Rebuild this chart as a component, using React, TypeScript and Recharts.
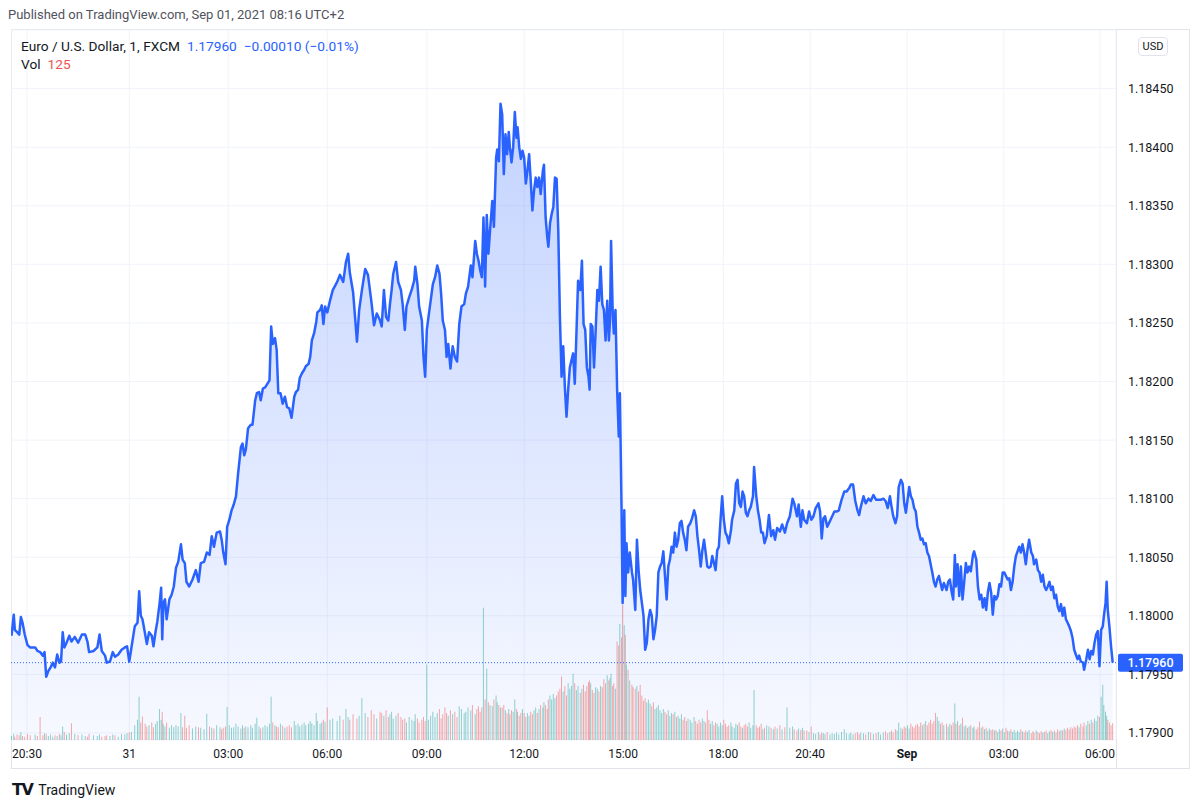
import React from "react";
import {
    ComposedChart,
    Area,
    Line,
    Bar,
    Cell,
    XAxis,
    YAxis,
    CartesianGrid,
    ReferenceLine
} from "recharts";

// bar index (1 bar = 1 minute, counted from the left edge of the chart)
const bars = [
    1, 5, 7, 11, 15, 18, 21, 25, 30, 35,
    44, 48, 53, 58, 61, 64, 68, 72, 76, 80,
    84, 88, 91, 94, 97, 101, 106, 110, 116, 122,
    129, 135, 139, 142, 150, 157, 161, 165, 171, 174,
    180, 185, 189, 195, 201, 207, 211, 215, 219, 225,
    230, 233, 236, 239, 244, 247, 251, 256, 259, 263,
    266, 270, 273, 275, 277, 280, 283, 288, 292, 296,
    300, 304, 309, 312, 316, 319, 324, 330, 336, 341,
    345, 351, 356, 361, 365, 369, 374, 380, 383, 386,
    390, 393, 397, 401, 405, 409, 413, 418, 421, 424,
    427, 431, 436, 439, 444, 447, 451, 454, 458, 462,
    466, 470, 473, 476, 480, 483, 486, 490, 494, 498,
    502, 506, 510, 515, 518, 522, 525, 529, 533, 536,
    541, 544, 547, 551, 555, 557, 562, 565, 568, 571,
    575, 580, 585, 593, 598, 604, 609, 613, 616, 622,
    629, 633, 638, 644, 649, 655, 660, 665, 671, 674,
    678, 682, 686, 689, 692, 695, 700, 704, 709, 712,
    716, 719, 724, 729, 733, 735, 739, 742, 747, 750,
    753, 756, 759, 763, 767, 771, 775, 779, 782, 785,
    789, 792, 795, 799, 803, 807, 811, 815, 819, 824,
    827, 831, 836, 839, 844, 847, 850, 853, 856, 859,
    862, 865, 868, 871, 875, 878, 882, 884, 887, 890,
    893, 896, 899, 902, 905, 907, 910, 913, 916, 919,
    921, 924, 927, 930, 933, 936, 939, 942, 945, 948,
    951, 954, 957, 960, 963, 967, 969, 972, 975, 977,
    980, 983, 986, 989, 992, 995, 998, 1001, 1004, 1007,
    1010, 1013, 1016, 1019, 1022, 1025, 1028, 1031, 1035, 1038,
    1041, 1044, 1047, 1050, 1052, 1054, 1057, 1060, 1063, 1066,
    1069, 1072, 1075, 1078, 1081, 1084, 1087, 1089, 1091, 1094,
    1096, 1099, 1102, 1105, 1107, 1110, 1112, 1115, 1117, 1119,
    1122, 1125, 1129, 1131, 1135, 1138, 1141, 1144, 1147, 1150,
    1153, 1156, 1159, 1162, 1165, 1168, 1171, 1174, 1177, 1180,
    1183, 1186, 1189, 1192, 1195, 1198, 1201, 1204, 1207, 1210,
    1213, 1216, 1219, 1222, 1225, 1228, 1231, 1235, 1238, 1242,
    1245, 1248, 1251, 1254, 1257, 1260, 1263, 1266, 1269, 1272,
    1275, 1278, 1281, 1284, 1287, 1290, 1293, 1296, 1299, 1302,
    1305, 1309, 1311, 1315, 1318, 1321, 1324, 1327, 1330, 1333,
    1336, 1339, 1342, 1345, 1349, 1351, 1355, 1358, 1361, 1364,
    1367, 1370, 1374, 1378, 1382, 1386, 1389, 1393, 1398, 1402,
    1407, 1411, 1416, 1421, 1424, 1429, 1432, 1436, 1439, 1442,
    1447, 1451, 1455, 1459, 1463, 1468, 1471, 1474, 1477, 1480,
    1484, 1489, 1493, 1497, 1501, 1505, 1510, 1515, 1519, 1524,
    1527, 1531, 1535, 1539, 1542, 1545, 1550, 1554, 1559, 1563,
    1568, 1573, 1577, 1581, 1586, 1590, 1594, 1598, 1601, 1604,
    1608, 1611, 1614, 1618, 1621, 1624, 1627, 1630, 1633, 1636,
    1639, 1642, 1645, 1648, 1651, 1654, 1657, 1660, 1663, 1666,
    1669, 1672, 1675, 1678, 1681, 1684, 1687, 1690, 1693, 1696,
    1701, 1704, 1707, 1710, 1713, 1716, 1718, 1721, 1724, 1727,
    1730, 1733, 1736, 1739, 1742, 1745, 1749, 1751, 1755, 1758,
    1761, 1764, 1767, 1770, 1773, 1776, 1779, 1782, 1785, 1788,
    1791, 1794, 1797, 1800, 1803, 1806, 1809, 1812, 1815, 1818,
    1821, 1824, 1827, 1830, 1833, 1836, 1839, 1842, 1845, 1848,
    1851, 1855, 1858, 1860, 1864, 1867, 1870, 1873, 1876, 1879,
    1882, 1885, 1888, 1891, 1894, 1897, 1900, 1903, 1906, 1909,
    1912, 1915, 1918, 1921, 1924, 1927, 1930, 1933, 1936, 1939,
    1942, 1945, 1949, 1951, 1955, 1958, 1961, 1964, 1967, 1970,
    1973, 1976, 1979, 1982, 1985, 1987, 1990, 1992, 1994, 1997,
    2000, 2003
];

const closes = [
    1.17983, 1.18001, 1.17988, 1.17986, 1.17984, 1.17999, 1.17994, 1.17984, 1.17975, 1.17973,
    1.17973, 1.17970, 1.17969, 1.17966, 1.17969, 1.17948, 1.17953, 1.17956, 1.17960, 1.17956,
    1.17967, 1.17960, 1.17961, 1.17986, 1.17973, 1.17977, 1.17983, 1.17978, 1.17982, 1.17977,
    1.17984, 1.17984, 1.17978, 1.17969, 1.17970, 1.17973, 1.17984, 1.17970, 1.17966, 1.17960,
    1.17961, 1.17969, 1.17965, 1.17967, 1.17971, 1.17973, 1.17974, 1.17961, 1.17973, 1.17991,
    1.17994, 1.18021, 1.18000, 1.17997, 1.17984, 1.17976, 1.17986, 1.17983, 1.17974, 1.17987,
    1.17995, 1.18010, 1.18024, 1.17980, 1.18011, 1.18014, 1.17997, 1.18014, 1.18018, 1.18025,
    1.18041, 1.18046, 1.18061, 1.18048, 1.18045, 1.18029, 1.18025, 1.18031, 1.18039, 1.18029,
    1.18045, 1.18046, 1.18054, 1.18052, 1.18068, 1.18059, 1.18071, 1.18072, 1.18065, 1.18054,
    1.18044, 1.18076, 1.18082, 1.18090, 1.18095, 1.18102, 1.18122, 1.18144, 1.18147, 1.18137,
    1.18142, 1.18160, 1.18163, 1.18163, 1.18184, 1.18190, 1.18191, 1.18184, 1.18194, 1.18195,
    1.18198, 1.18201, 1.18247, 1.18232, 1.18237, 1.18227, 1.18190, 1.18190, 1.18181, 1.18187,
    1.18178, 1.18177, 1.18169, 1.18187, 1.18191, 1.18193, 1.18203, 1.18207, 1.18210, 1.18213,
    1.18215, 1.18221, 1.18235, 1.18241, 1.18251, 1.18259, 1.18261, 1.18265, 1.18249, 1.18264,
    1.18259, 1.18269, 1.18278, 1.18285, 1.18291, 1.18285, 1.18302, 1.18309, 1.18293, 1.18276,
    1.18234, 1.18261, 1.18278, 1.18296, 1.18291, 1.18269, 1.18248, 1.18258, 1.18252, 1.18247,
    1.18278, 1.18255, 1.18252, 1.18266, 1.18278, 1.18292, 1.18302, 1.18285, 1.18278, 1.18266,
    1.18244, 1.18264, 1.18272, 1.18279, 1.18286, 1.18298, 1.18283, 1.18264, 1.18252, 1.18221,
    1.18204, 1.18244, 1.18255, 1.18269, 1.18283, 1.18289, 1.18299, 1.18292, 1.18275, 1.18252,
    1.18244, 1.18221, 1.18232, 1.18211, 1.18230, 1.18221, 1.18217, 1.18249, 1.18264, 1.18266,
    1.18275, 1.18281, 1.18299, 1.18289, 1.18320, 1.18309, 1.18303, 1.18295, 1.18289, 1.18340,
    1.18281, 1.18342, 1.18309, 1.18329, 1.18354, 1.18332, 1.18391, 1.18398, 1.18388, 1.18437,
    1.18428, 1.18377, 1.18411, 1.18394, 1.18413, 1.18400, 1.18387, 1.18400, 1.18430, 1.18408,
    1.18417, 1.18400, 1.18390, 1.18397, 1.18391, 1.18369, 1.18380, 1.18394, 1.18371, 1.18346,
    1.18363, 1.18374, 1.18366, 1.18374, 1.18360, 1.18380, 1.18385, 1.18340, 1.18323, 1.18315,
    1.18335, 1.18343, 1.18349, 1.18374, 1.18373, 1.18329, 1.18255, 1.18204, 1.18230, 1.18195,
    1.18170, 1.18193, 1.18212, 1.18218, 1.18224, 1.18198, 1.18241, 1.18286, 1.18278, 1.18303,
    1.18249, 1.18244, 1.18212, 1.18204, 1.18193, 1.18249, 1.18247, 1.18212, 1.18244, 1.18278,
    1.18269, 1.18298, 1.18266, 1.18261, 1.18235, 1.18269, 1.18235, 1.18252, 1.18320, 1.18258,
    1.18241, 1.18261, 1.18193, 1.18153, 1.18190, 1.18093, 1.18011, 1.18090, 1.18017, 1.18062,
    1.18037, 1.18054, 1.18037, 1.18031, 1.18005, 1.18065, 1.18039, 1.18022, 1.18011, 1.18000,
    1.17971, 1.17977, 1.17997, 1.18005, 1.18000, 1.17980, 1.17988, 1.18000, 1.18037, 1.18042,
    1.18045, 1.18055, 1.18034, 1.18014, 1.18042, 1.18048, 1.18059, 1.18054, 1.18071, 1.18059,
    1.18065, 1.18079, 1.18081, 1.18071, 1.18065, 1.18056, 1.18076, 1.18079, 1.18083, 1.18090,
    1.18085, 1.18068, 1.18056, 1.18042, 1.18056, 1.18065, 1.18054, 1.18042, 1.18041, 1.18042,
    1.18051, 1.18045, 1.18039, 1.18056, 1.18059, 1.18082, 1.18102, 1.18082, 1.18071, 1.18068,
    1.18062, 1.18073, 1.18082, 1.18090, 1.18113, 1.18116, 1.18096, 1.18093, 1.18106, 1.18102,
    1.18088, 1.18085, 1.18090, 1.18093, 1.18102, 1.18127, 1.18102, 1.18090, 1.18082, 1.18071,
    1.18071, 1.18062, 1.18068, 1.18086, 1.18068, 1.18073, 1.18065, 1.18075, 1.18072, 1.18078,
    1.18071, 1.18079, 1.18085, 1.18100, 1.18096, 1.18085, 1.18095, 1.18076, 1.18090, 1.18082,
    1.18079, 1.18089, 1.18082, 1.18085, 1.18092, 1.18096, 1.18089, 1.18066, 1.18083, 1.18085,
    1.18076, 1.18081, 1.18085, 1.18089, 1.18089, 1.18090, 1.18099, 1.18106, 1.18106, 1.18109,
    1.18112, 1.18112, 1.18098, 1.18090, 1.18086, 1.18093, 1.18102, 1.18096, 1.18100, 1.18098,
    1.18103, 1.18099, 1.18099, 1.18099, 1.18100, 1.18098, 1.18092, 1.18102, 1.18093, 1.18085,
    1.18079, 1.18085, 1.18110, 1.18116, 1.18113, 1.18096, 1.18088, 1.18099, 1.18110, 1.18102,
    1.18099, 1.18092, 1.18089, 1.18076, 1.18071, 1.18065, 1.18066, 1.18061, 1.18062, 1.18054,
    1.18051, 1.18044, 1.18037, 1.18029, 1.18025, 1.18031, 1.18034, 1.18028, 1.18022, 1.18028,
    1.18022, 1.18029, 1.18031, 1.18021, 1.18014, 1.18052, 1.18025, 1.18044, 1.18017, 1.18042,
    1.18014, 1.18029, 1.18045, 1.18037, 1.18042, 1.18038, 1.18052, 1.18055, 1.18048, 1.18025,
    1.18014, 1.18018, 1.18007, 1.18015, 1.18005, 1.18020, 1.18028, 1.18020, 1.18001, 1.18017,
    1.18014, 1.18017, 1.18027, 1.18025, 1.18037, 1.18037, 1.18034, 1.18031, 1.18032, 1.18022,
    1.18029, 1.18042, 1.18051, 1.18055, 1.18059, 1.18054, 1.18061, 1.18054, 1.18044, 1.18056,
    1.18065, 1.18054, 1.18051, 1.18044, 1.18048, 1.18039, 1.18037, 1.18029, 1.18035, 1.18025,
    1.18022, 1.18025, 1.18029, 1.18022, 1.18025, 1.18015, 1.18018, 1.18008, 1.18004, 1.18010,
    1.18000, 1.18007, 1.17997, 1.17994, 1.17991, 1.17987, 1.17981, 1.17971, 1.17967, 1.17963,
    1.17966, 1.17961, 1.17960, 1.17954, 1.17963, 1.17971, 1.17963, 1.17970, 1.17967, 1.17977,
    1.17984, 1.17987, 1.17957, 1.17988, 1.17991, 1.18000, 1.18011, 1.18029, 1.18005, 1.17991,
    1.17974, 1.17960
];

const volumes = [
    30, 45, 25, 40, 35, 60, 30, 25, 45, 35,
    40, 30, 170, 35, 50, 45, 30, 40, 25, 35,
    30, 45, 35, 100, 60, 40, 50, 125, 45, 35,
    40, 30, 25, 45, 35, 30, 40, 25, 30, 35,
    30, 40, 35, 25, 45, 40, 50, 55, 60, 110,
    150, 320, 130, 175, 120, 100, 110, 130, 95, 120,
    140, 230, 150, 210, 120, 100, 130, 90, 110, 95,
    110, 100, 200, 95, 180, 90, 110, 85, 100, 95,
    90, 80, 195, 100, 90, 85, 110, 95, 80, 90,
    100, 245, 110, 90, 95, 120, 100, 85, 110, 90,
    100, 95, 110, 90, 120, 165, 100, 85, 95, 110,
    100, 120, 320, 130, 110, 100, 95, 120, 105, 90,
    100, 110, 95, 140, 110, 120, 100, 115, 130, 110,
    120, 140, 125, 110, 200, 140, 120, 130, 150, 135,
    240, 150, 160, 140, 180, 150, 230, 170, 150, 190,
    160, 180, 310, 200, 170, 220, 190, 160, 210, 200,
    180, 220, 170, 190, 210, 160, 180, 200, 170, 150,
    160, 130, 170, 150, 140, 190, 160, 130, 150, 170,
    140, 560, 150, 180, 210, 170, 200, 230, 160, 190,
    240, 200, 180, 220, 190, 210, 170, 250, 230, 200,
    210, 240, 220, 260, 190, 230, 250, 210, 240, 980,
    300, 530, 280, 260, 250, 300, 330, 280, 260, 240,
    240, 260, 220, 200, 230, 190, 220, 210, 300, 230,
    210, 180, 200, 230, 200, 170, 200, 180, 210, 190,
    220, 240, 200, 230, 260, 240, 280, 260, 230, 300,
    330, 300, 340, 310, 330, 360, 380, 470, 360, 400,
    330, 420, 380, 400, 490, 420, 370, 400, 350, 380,
    410, 360, 400, 430, 440, 420, 370, 350, 390, 380,
    360, 400, 390, 450, 420, 480, 440, 460, 490, 400,
    420, 380, 730, 700, 860, 760, 1000, 850, 780, 560,
    520, 440, 410, 390, 380, 400, 360, 410, 330, 290,
    310, 280, 300, 270, 250, 280, 230, 240, 260, 220,
    200, 230, 210, 190, 220, 180, 200, 190, 210, 170,
    180, 160, 190, 150, 170, 140, 160, 150, 130, 170,
    140, 120, 150, 130, 160, 140, 130, 220, 150, 120,
    140, 110, 130, 120, 100, 130, 110, 150, 120, 100,
    110, 130, 100, 90, 120, 110, 130, 100, 90, 110,
    120, 100, 130, 90, 110, 370, 110, 90, 100, 120,
    80, 90, 110, 100, 90, 80, 100, 85, 110, 80,
    95, 240, 90, 100, 80, 70, 85, 75, 90, 70,
    70, 60, 100, 50, 45, 60, 40, 55, 50, 45,
    60, 40, 50, 45, 55, 40, 60, 80, 50, 45,
    55, 40, 50, 60, 45, 55, 50, 40, 60, 55,
    45, 50, 60, 40, 55, 65, 50, 60, 70, 55,
    80, 70, 130, 90, 80, 100, 90, 110, 85, 120,
    100, 90, 110, 120, 100, 130, 110, 120, 140, 110,
    130, 150, 120, 140, 200, 170, 140, 120, 130, 110,
    120, 100, 120, 110, 130, 270, 120, 140, 110, 120,
    165, 100, 110, 90, 100, 110, 90, 100, 80, 95,
    135, 90, 100, 80, 90, 70, 85, 75, 80, 70,
    75, 60, 80, 70, 85, 60, 90, 70, 65, 80,
    60, 75, 55, 70, 60, 80, 65, 55, 70, 60,
    75, 50, 65, 55, 70, 60, 50, 65, 55, 60,
    70, 50, 65, 75, 60, 70, 55, 80, 65, 75,
    70, 85, 75, 90, 80, 95, 85, 100, 90, 110,
    95, 120, 100, 130, 110, 140, 120, 150, 130, 160,
    140, 180, 170, 320, 410, 260, 210, 180, 150, 130,
    110, 125
];

const tickBars = [29, 215, 395, 575, 756, 933, 1113, 1295, 1453, 1629, 1805, 1980];
const tickLabels = ["20:30", "31", "03:00", "06:00", "09:00", "12:00", "15:00", "18:00", "20:40", "Sep", "03:00", "06:00"];
const boldLabels = ["Sep"];
const priceTicks = [1.179, 1.1795, 1.18, 1.1805, 1.181, 1.1815, 1.182, 1.1825, 1.183, 1.1835, 1.184, 1.1845];

const publishedText = "Published on TradingView.com, Sep 01, 2021 08:16 UTC+2";
const symbolText = "Euro / U.S. Dollar, 1, FXCM";
const lastPrice = 1.1796;
const changeText = "\u22120.00010 (\u22120.01%)";
const lastVolume = 125;

const LINE_BLUE = "#2962ff";
const UP_COLOR = "rgba(38, 166, 154, 0.5)";
const DOWN_COLOR = "rgba(239, 83, 80, 0.5)";
const TEXT = "#131722";
const BORDER = "#e0e3eb";

const n = Math.min(bars.length, closes.length, volumes.length);
const chartData = bars.slice(0, n).map((bar, i) => ({
    bar,
    close: closes[i],
    vol: volumes[i],
    up: i === 0 || closes[i] >= closes[i - 1]
}));

const TimeTick = (props: any) => {
    const { x, y, payload } = props;
    const label = tickLabels[tickBars.indexOf(payload.value)] ?? "";
    return (
        <text
            x={x}
            y={y}
            dy={10}
            textAnchor="middle"
            fontSize={12}
            fill={TEXT}
            fontWeight={boldLabels.includes(label) ? 700 : 400}
        >
            {label}
        </text>
    );
};

// blue last-price badge on the price scale (covers the tick label under it, as in TradingView)
const LastPriceLabel = (props: any) => {
    const vb = props.viewBox || {};
    const right = (vb.x ?? 0) + (vb.width ?? 0);
    const y = vb.y ?? 0;
    return (
        <g>
            <rect x={right + 2} y={y - 9} width={65} height={18} rx={2} fill={LINE_BLUE} />
            <text x={right + 34.5} y={y + 4.5} textAnchor="middle" fontSize={12.5} fontWeight={500} fill="#fff">
                {lastPrice.toFixed(5)}
            </text>
        </g>
    );
};

export default function App() {
    return (
        <div
            style={{
                position: "absolute",
                left: 0,
                top: 0,
                width: 1200,
                height: 808,
                background: "#fff",
                fontFamily: "Roboto, 'Liberation Sans', sans-serif",
                color: TEXT,
                overflow: "hidden"
            }}
        >
            <div style={{ position: "absolute", left: 8, top: 7, fontSize: 13, color: "#50535e", whiteSpace: "nowrap" }}>
                {publishedText}
            </div>

            {/* chart frame */}
            <div
                style={{
                    position: "absolute",
                    left: 11,
                    top: 29,
                    width: 1179,
                    height: 740,
                    border: `1px solid ${BORDER}`,
                    boxSizing: "border-box"
                }}
            />
            <div style={{ position: "absolute", left: 1116, top: 29, width: 1, height: 740, background: BORDER }} />

            <div style={{ position: "absolute", left: 11, top: 29 }}>
                <ComposedChart
                    width={1179}
                    height={740}
                    data={chartData}
                    margin={{ top: 1, right: 0, bottom: 0, left: 0 }}
                >
                    <defs>
                        <linearGradient id="areaFill" x1="0" y1="0" x2="0" y2="1">
                            <stop offset="0%" stopColor={LINE_BLUE} stopOpacity={0.28} />
                            <stop offset="100%" stopColor={LINE_BLUE} stopOpacity={0.04} />
                        </linearGradient>
                    </defs>

                    <CartesianGrid yAxisId="price" stroke="#f0f3fa" strokeWidth={1} />

                    <XAxis
                        dataKey="bar"
                        type="number"
                        domain={[0, 2009]}
                        allowDataOverflow
                        ticks={tickBars}
                        interval={0}
                        height={29}
                        axisLine={false}
                        tickLine={false}
                        tick={<TimeTick />}
                    />
                    <YAxis
                        yAxisId="price"
                        orientation="right"
                        width={74}
                        type="number"
                        domain={[1.17894, 1.185]}
                        allowDataOverflow
                        ticks={priceTicks}
                        interval={0}
                        axisLine={false}
                        tickLine={false}
                        tickMargin={6}
                        tick={{ fill: TEXT, fontSize: 12.5 }}
                        tickFormatter={(v: number) => v.toFixed(5)}
                    />
                    <YAxis yAxisId="vol" hide domain={[0, 5260]} allowDataOverflow />

                    <Area
                        yAxisId="price"
                        type="linear"
                        dataKey="close"
                        stroke="none"
                        fill="url(#areaFill)"
                        fillOpacity={1}
                        isAnimationActive={false}
                    />

                    <Bar yAxisId="vol" dataKey="vol" barSize={2} isAnimationActive={false}>
                        {chartData.map((d, i) => (
                            <Cell key={i} fill={d.up ? UP_COLOR : DOWN_COLOR} />
                        ))}
                    </Bar>

                    <Line
                        yAxisId="price"
                        type="linear"
                        dataKey="close"
                        stroke={LINE_BLUE}
                        strokeWidth={2.5}
                        strokeLinejoin="round"
                        dot={false}
                        activeDot={false}
                        isAnimationActive={false}
                    />

                    <ReferenceLine
                        yAxisId="price"
                        y={lastPrice}
                        stroke={LINE_BLUE}
                        strokeWidth={1}
                        strokeDasharray="1 2"
                        label={<LastPriceLabel />}
                    />
                </ComposedChart>
            </div>

            {/* legend */}
            <div style={{ position: "absolute", left: 21, top: 38, fontSize: 13.7, whiteSpace: "nowrap" }}>
                <span style={{ color: TEXT }}>{symbolText}</span>
                <span style={{ color: LINE_BLUE, marginLeft: 7 }}>{lastPrice.toFixed(5)}</span>
                <span style={{ color: LINE_BLUE, marginLeft: 7 }}>{changeText}</span>
            </div>
            <div style={{ position: "absolute", left: 21, top: 56, fontSize: 13.7, whiteSpace: "nowrap" }}>
                <span style={{ color: TEXT }}>Vol</span>
                <span style={{ color: "#ef5350", marginLeft: 7 }}>{lastVolume}</span>
            </div>

            {/* currency badge */}
            <div
                style={{
                    position: "absolute",
                    left: 1138,
                    top: 37,
                    width: 30,
                    height: 19,
                    border: `1px solid ${BORDER}`,
                    borderRadius: 4,
                    boxSizing: "border-box",
                    fontSize: 11,
                    lineHeight: "17px",
                    textAlign: "center",
                    color: TEXT
                }}
            >
                USD
            </div>

            {/* footer logo */}
            <div style={{ position: "absolute", left: 12, top: 780, display: "flex", alignItems: "center", whiteSpace: "nowrap" }}>
                <span style={{ fontSize: 16, fontWeight: 900, letterSpacing: -1.5, color: TEXT, fontFamily: "'DejaVu Sans', sans-serif" }}>TV</span>
                <span style={{ fontSize: 14, marginLeft: 6, color: TEXT }}>TradingView</span>
            </div>
        </div>
    );
}
